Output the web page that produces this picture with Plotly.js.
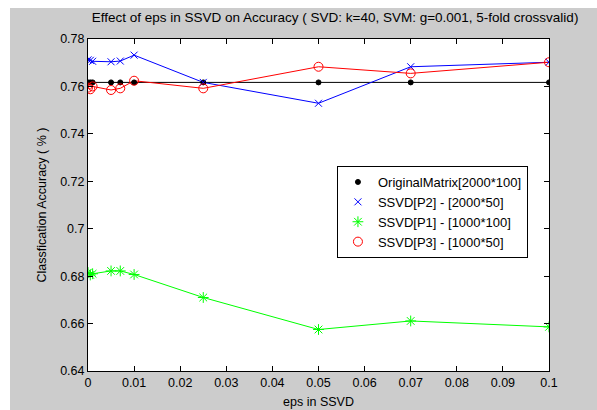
<!DOCTYPE html>
<html>
<head>
<meta charset="utf-8">
<script src="https://cdn.plot.ly/plotly-3.0.1.min.js"></script>
<style>
html,body{margin:0;padding:0;background:#ffffff;width:597px;height:410px;overflow:hidden;}
#chart{position:absolute;left:10px;top:8px;width:587px;height:402px;background:#cccccc;}
</style>
</head>
<body>
<div id="chart"></div>
<script>
const eps = [0, 0.0005, 0.001, 0.005, 0.007, 0.01, 0.025, 0.05, 0.07, 0.1];
const original = [0.7617, 0.7617, 0.7617, 0.7617, 0.7617, 0.7617, 0.7617, 0.7617, 0.7617, 0.7617];
const ssvdP2 = [0.7712, 0.7710, 0.7706, 0.7704, 0.7707, 0.7732, 0.7617, 0.7529, 0.7683, 0.7702];
const ssvdP1 = [0.6815, 0.6805, 0.6810, 0.6822, 0.6822, 0.6807, 0.6710, 0.6575, 0.6611, 0.6586];
const ssvdP3 = [0.7595, 0.7588, 0.7600, 0.7585, 0.7592, 0.7624, 0.7592, 0.7683, 0.7655, 0.7702];
const names = ["OriginalMatrix[2000*100]", "SSVD[P2] - [2000*50]", "SSVD[P1] - [1000*100]", "SSVD[P3] - [1000*50]"];
const xTicks = [0, 0.01, 0.02, 0.03, 0.04, 0.05, 0.06, 0.07, 0.08, 0.09, 0.1];
const xTickText = ["0", "0.01", "0.02", "0.03", "0.04", "0.05", "0.06", "0.07", "0.08", "0.09", "0.1"];
const yTicks = [0.64, 0.66, 0.68, 0.7, 0.72, 0.74, 0.76, 0.78];
const yTickText = ["0.64", "0.66", "0.68", "0.7", "0.72", "0.74", "0.76", "0.78"];

const font = "Liberation Sans, Arial, Helvetica, sans-serif";
const series = [
  {y: original, name: names[0], color: "#000000", symbol: "circle", size: 5},
  {y: ssvdP2, name: names[1], color: "#0000ff", symbol: "x-thin-open", size: 7},
  {y: ssvdP1, name: names[2], color: "#00ff00", symbol: "asterisk-open", size: 9},
  {y: ssvdP3, name: names[3], color: "#ff0000", symbol: "circle-open", size: 9}
];
const traces = [];
series.forEach(s => {
  traces.push({x: eps, y: s.y, name: s.name, mode: "lines", showlegend: false,
    line: {color: s.color, width: 1}, hoverinfo: "skip"});
});
series.forEach(s => {
  traces.push({x: eps, y: s.y, name: s.name, mode: "markers",
    marker: {symbol: s.symbol, size: s.size, color: s.color, line: {color: s.color, width: 1}}});
});

const axisCommon = {
  showgrid: false, zeroline: false, showline: true, linecolor: "#000000", linewidth: 1,
  mirror: "ticks", ticks: "inside", ticklen: 5, tickcolor: "#000000", tickwidth: 1,
  tickfont: {family: font, size: 12.5, color: "#000000"}
};

const layout = {
  width: 587, height: 402,
  paper_bgcolor: "#cccccc", plot_bgcolor: "#ffffff",
  margin: {l: 78, r: 48, t: 31, b: 39},
  title: {text: "Effect of eps in SSVD on Accuracy ( SVD: k=40, SVM: g=0.001, 5-fold crossvalid)",
          font: {family: font, size: 13.5, color: "#000000"}, x: 0.5537, xanchor: "center", y: 0.978, yanchor: "middle"},
  xaxis: Object.assign({}, axisCommon, {
    range: [0, 0.1], tickvals: xTicks, ticktext: xTickText,
    title: {text: "eps in SSVD", font: {family: font, size: 12.5, color: "#000000"}, standoff: 8}
  }),
  yaxis: Object.assign({}, axisCommon, {
    range: [0.64, 0.78], tickvals: yTicks, ticktext: yTickText,
    title: {text: "Classfication Accuracy ( % )", font: {family: font, size: 12.5, color: "#000000"}, standoff: 10}
  }),
  legend: {x: 0.54, y: 0.6175, xanchor: "left", yanchor: "top", bgcolor: "#ffffff",
           bordercolor: "#000000", borderwidth: 1, font: {family: font, size: 13, color: "#000000"},
           tracegroupgap: 0, itemwidth: 30},
  showlegend: true
};

Plotly.newPlot("chart", traces, layout, {displayModeBar: false, staticPlot: true});
</script>
</body>
</html>
